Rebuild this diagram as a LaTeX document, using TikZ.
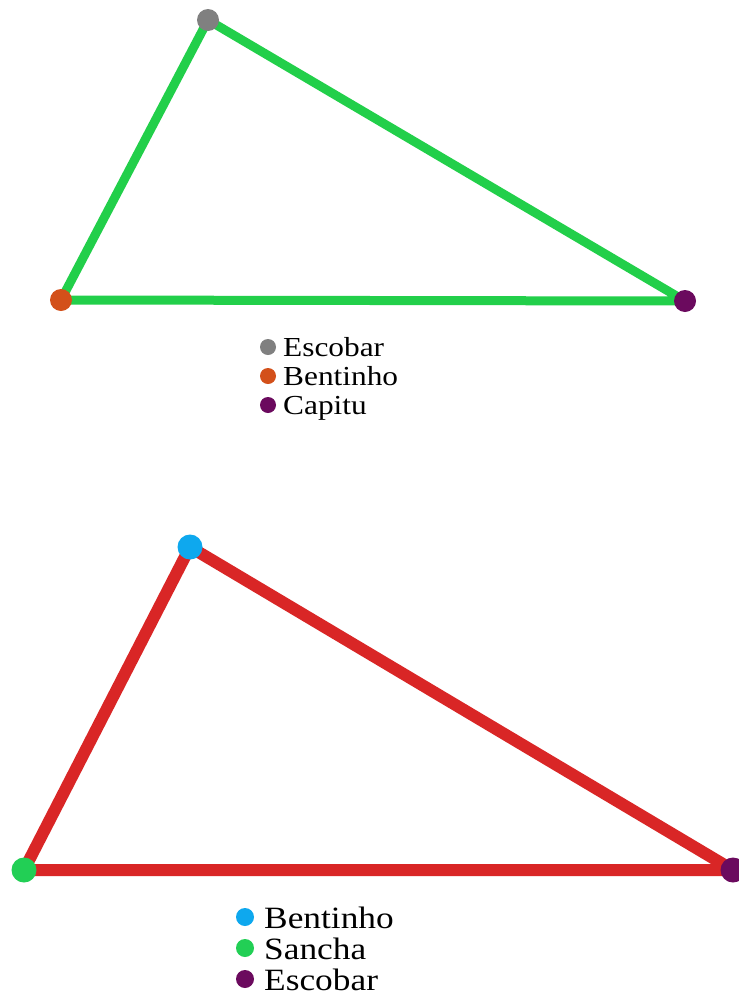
\documentclass[tikz,border=0pt]{standalone}
\usepackage{fontspec}
\setmainfont{Liberation Serif}
\usepackage{xcolor}
\definecolor{edgeg}{HTML}{22CF4A}
\definecolor{edger}{HTML}{D92626}
\definecolor{grayc}{HTML}{808080}
\definecolor{orangec}{HTML}{D3501A}
\definecolor{purplec}{HTML}{6B0A5E}
\definecolor{bluec}{HTML}{0EA8EE}
\definecolor{greenc}{HTML}{22CF55}

\tikzset{
  vdot/.style={circle, fill=#1, inner sep=0pt},
  keytext/.style={anchor=base west, inner sep=0pt}
}

\begin{document}
\begin{tikzpicture}[x=1pt,y=-1pt]
  \useasboundingbox (0,0) rectangle (739,999);
  \fill[white] (0,0) rectangle (739,999);

  % ==========================================================
  %                     TOP TRIANGLE
  % ==========================================================
  \def\topDot{22pt}         % vertex dot diameter
  \def\topKeyDot{16pt}      % legend dot diameter

  \coordinate (escA) at (208,20);
  \coordinate (benA) at (61,300);
  \coordinate (capA) at (685,301);

  \draw[edgeg, line width=9pt, line join=round]
    (escA) -- (capA) -- (benA) -- cycle;

  \node[vdot=grayc,   minimum size=\topDot] (escAdot) at (escA) {};
  \node[vdot=orangec, minimum size=\topDot] (benAdot) at (benA) {};
  \node[vdot=purplec, minimum size=\topDot] (capAdot) at (capA) {};

  % legend (text is a bit wide in the original)
  \foreach \col/\name [count=\i] in {grayc/Escobar, orangec/Bentinho, purplec/Capitu} {
    \pgfmathsetmacro{\ky}{347+29*(\i-1)}
    \node[vdot=\col, minimum size=\topKeyDot] (keyA\i) at (268,\ky) {};
    \node[keytext, font=\fontsize{27.5}{30}\selectfont] (labA\i) at (283,\ky+9)
      {\scalebox{1.14}[1]{\name}};
  }

  % ==========================================================
  %                     BOTTOM TRIANGLE
  % ==========================================================
  \def\botDot{25pt}
  \def\botKeyDot{18pt}

  \coordinate (benB) at (190,547);
  \coordinate (sanB) at (24,870);
  \coordinate (escB) at (733,870);

  \draw[edger, line width=12pt, line join=round]
    (benB) -- (escB) -- (sanB) -- cycle;

  \node[vdot=bluec,   minimum size=\botDot] (benBdot) at (benB) {};
  \node[vdot=greenc,  minimum size=\botDot] (sanBdot) at (sanB) {};
  \node[vdot=purplec, minimum size=\botDot] (escBdot) at (escB) {};

  % legend
  \foreach \col/\name [count=\i] in {bluec/Bentinho, greenc/Sancha, purplec/Escobar} {
    \pgfmathsetmacro{\ky}{917+31*(\i-1)}
    \node[vdot=\col, minimum size=\botKeyDot] (keyB\i) at (245,\ky) {};
    \node[keytext, font=\fontsize{31}{34}\selectfont] (labB\i) at (264,\ky+11)
      {\scalebox{1.14}[1]{\name}};
  }

\end{tikzpicture}
\end{document}
